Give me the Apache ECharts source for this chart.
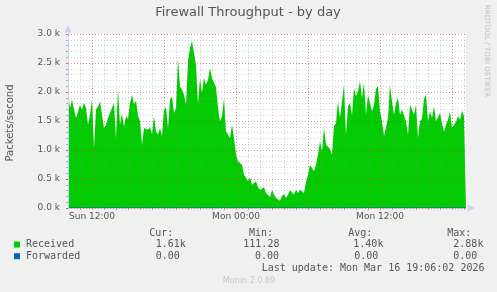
<!DOCTYPE html>
<html><head><meta charset="utf-8">
<script src="https://cdn.jsdelivr.net/npm/echarts@6/dist/echarts.min.js"></script>
<style>html,body{margin:0;padding:0;background:#F0F0F0;}#c{width:497px;height:292px;}</style>
</head><body><div id="c"></div>
<script>
// ---- data ----
const startMinute = 600;      // Sun 10:00
const stepMinutes = 10;
const received = [
1965,1724,1868,1700,1552,1580,1770,1700,1810,1724,
1437,1609,1868,1034,1700,1750,1830,1609,1379,1437,
1552,1520,1724,1810,1200,2060,1437,1620,1400,1580,
1540,1810,1954,1790,1850,1600,1494,1092,1379,1350,
1350,1390,1276,1580,1322,1264,1379,1236,1700,1736,
1379,1868,1925,1638,1724,2580,2100,2040,1954,1782,
2529,2759,2880,2672,2471,1782,2241,1983,2241,2126,
2213,2414,2241,2241,2080,1724,1494,1580,1885,1322,
1264,1207,1437,1207,920,805,805,747,575,517,
460,529,402,431,460,356,316,287,356,259,
259,184,316,230,172,201,126,201,241,172,
230,305,276,230,316,259,316,345,259,448,
575,747,776,632,747,920,1149,977,1379,1092,
1121,1023,920,1408,1465,1839,1552,1580,2126,1264,
1753,1810,1598,2069,1925,2011,2184,1897,2155,1609,
1954,1925,1667,1782,2057,2098,1667,1494,1236,1264,
1552,2115,1839,1609,1810,1897,1609,1695,1724,1494,
1264,1782,1810,1609,1782,1207,1494,1540,1885,1954,
1494,1667,1552,1753,1494,1465,1638,1465,1310,1437,
1523,1667,1379,1437,1483,1580,1523,1678,1580,1610
];
const forwarded = [
0,0,0,0,0,0,0,0,0,0,0,0,0,0,0,0,0,0,0,0,0,0,0,0,0,0,0,0,0,0,0,0,0,0,0,0,0,0,0,0,0,0,0,0,0,0,0,0,0,0,
0,0,0,0,0,0,0,0,0,0,0,0,0,0,0,0,0,0,0,0,0,0,0,0,0,0,0,0,0,0,0,0,0,0,0,0,0,0,0,0,0,0,0,0,0,0,0,0,0,0,
0,0,0,0,0,0,0,0,0,0,0,0,0,0,0,0,0,0,0,0,0,0,0,0,0,0,0,0,0,0,0,0,0,0,0,0,0,0,0,0,0,0,0,0,0,0,0,0,0,0,
0,0,0,0,0,0,0,0,0,0,0,0,0,0,0,0,0,0,0,0,0,0,0,0,0,0,0,0,0,0,0,0,0,0,0,0,0,0,0,0,0,0,0,0,0,0,0,0,0,0
];
const xLabels = ['Sun 12:00', 'Mon 00:00', 'Mon 12:00'];
const yMax = 3000;
const seriesNames = ['Received', 'Forwarded'];
const seriesColors = ['#00CC00', '#0066B3'];
const statHeaders = ['Cur:', 'Min:', 'Avg:', 'Max:'];
const statsReceived = ['1.61k', '111.28', '1.40k', '2.88k'];
const statsForwarded = ['0.00', '0.00', '0.00', '0.00'];
const title = 'Firewall Throughput - by day';
const yName = 'Packets/second';
const lastUpdate = 'Last update: Mon Mar 16 19:06:02 2026';
const footer = 'Munin 2.0.69';
const sideText = 'RRDTOOL / TOBI OETIKER';

// ---- build ----
const days = ['Sun', 'Mon', 'Tue'];
const pad = n => (n < 10 ? '0' : '') + n;
const cats = received.map((_, i) => {
  const m = startMinute + i * stepMinutes;
  return days[Math.floor(m / 1440)] + ' ' + pad(Math.floor((m % 1440) / 60)) + ':' + pad(m % 60);
});
const minuteOf = i => startMinute + i * stepMinutes;
const isHour = i => i > 0 && minuteOf(i) % 60 === 0;
const isSix = i => i > 0 && minuteOf(i) % 360 === 0;

const TXT = '#555555';
const AX = '#C8CEF4';
const GRID = 'rgba(140,140,140,0.38)';
const MGRID = 'rgba(255,0,0,0.33)';
const mono = '10px "DejaVu Sans Mono"';
const graphic = [
  {type:'text', x:248, y:13, style:{text:title, fill:TXT, font:'13px "DejaVu Sans"', textAlign:'center', textVerticalAlign:'middle'}},
  {type:'text', x:10.5, y:123, rotation:Math.PI/2, style:{text:yName, fill:TXT, font:'10px "DejaVu Sans"', textAlign:'center', textVerticalAlign:'middle'}},
  {type:'text', x:487, y:51, rotation:-Math.PI/2, style:{text:sideText, fill:'#C4C4C4', font:'7.2px "DejaVu Sans"', textAlign:'center', textVerticalAlign:'middle'}},
  {type:'text', x:249, y:281, style:{text:footer, fill:'#C8C8C8', font:'8px "DejaVu Sans"', textAlign:'center', textVerticalAlign:'middle'}},
  {type:'text', x:261.7, y:268.5, style:{text:lastUpdate, fill:TXT, font:mono, textAlign:'left', textVerticalAlign:'middle'}}
];
const hdrX = [149.3, 249, 348.3, 447.3];
statHeaders.forEach((h, k) => graphic.push({type:'text', x:hdrX[k], y:233, style:{text:h, fill:TXT, font:mono, textAlign:'left', textVerticalAlign:'middle'}}));
const recX = [155.7, 243.3, 353.3, 453.3];
const fwdX = [155.7, 255, 354.3, 453.3];
[[statsReceived, recX, 244.5], [statsForwarded, fwdX, 256.2]].forEach(([vals, xs, y], r) => {
  graphic.push({type:'rect', shape:{x:14, y:y-3, width:6, height:6}, style:{fill:seriesColors[r]}});
  graphic.push({type:'text', x:26, y:y, style:{text:seriesNames[r], fill:TXT, font:mono, textAlign:'left', textVerticalAlign:'middle'}});
  vals.forEach((v, k) => graphic.push({type:'text', x:xs[k], y:y, style:{text:v, fill:TXT, font:mono, textAlign:'left', textVerticalAlign:'middle'}}));
});

const chart = echarts.init(document.getElementById('c'), null, {renderer:'canvas'});
chart.setOption({
  backgroundColor:'#F0F0F0',
  animation:false,
  grid:{left:68, right:31, top:34, bottom:84, show:true, backgroundColor:'#FFFFFF', borderWidth:0},
  xAxis:[
    {type:'category', data:cats, boundaryGap:false, position:'bottom', z:10,
     axisLine:{show:true, lineStyle:{color:AX, width:1}, symbol:['none','triangle'], symbolSize:[7,7], symbolOffset:[0,5]},
     axisTick:{show:true, interval:(i)=>isHour(i), length:2, lineStyle:{color:'#aaa'}},
     axisLabel:{interval:(i, v)=>xLabels.indexOf(v) >= 0, color:TXT, fontFamily:'DejaVu Sans', fontSize:9, margin:4},
     splitLine:{show:true, interval:(i)=>isHour(i), lineStyle:{color:GRID, type:[1,2], width:1}}
    },
    {type:'category', data:cats, boundaryGap:false, position:'bottom', z:4,
     axisLine:{show:false}, axisLabel:{show:false},
     axisTick:{show:true, interval:(i)=>isSix(i), length:2, lineStyle:{color:'rgba(255,0,0,0.5)'}},
     splitLine:{show:true, interval:(i)=>isSix(i), lineStyle:{color:MGRID, type:[1,2], width:1}}
    }
  ],
  yAxis:[
    {type:'value', min:0, max:yMax, interval:100, position:'left', z:3,
     axisLine:{show:false}, axisLabel:{show:false},
     axisTick:{show:true, length:2, lineStyle:{color:'#aaa'}},
     splitLine:{show:true, lineStyle:{color:GRID, type:[1,2], width:1}}
    },
    {type:'value', min:0, max:yMax, interval:500, position:'left', z:12,
     axisLine:{show:true, lineStyle:{color:AX, width:1}, symbol:['none','triangle'], symbolSize:[7,7], symbolOffset:[0,5]},
     axisTick:{show:true, length:2, lineStyle:{color:'rgba(255,0,0,0.5)'}},
     axisLabel:{color:TXT, fontFamily:'DejaVu Sans', fontSize:9, margin:8, formatter:v=>(v/1000).toFixed(1)+' k'},
     splitLine:{show:true, lineStyle:{color:MGRID, type:[1,2], width:1}}
    }
  ],
  series:[
    {name:seriesNames[0], type:'line', data:received, xAxisIndex:0, yAxisIndex:0, z:1,
     showSymbol:false, symbol:'none', lineStyle:{width:0}, areaStyle:{color:seriesColors[0], opacity:1}},
    {name:seriesNames[1], type:'line', data:forwarded, xAxisIndex:0, yAxisIndex:0, z:1,
     showSymbol:false, symbol:'none', lineStyle:{width:1, color:seriesColors[1]}}
  ],
  graphic:graphic
});
</script></body></html>
